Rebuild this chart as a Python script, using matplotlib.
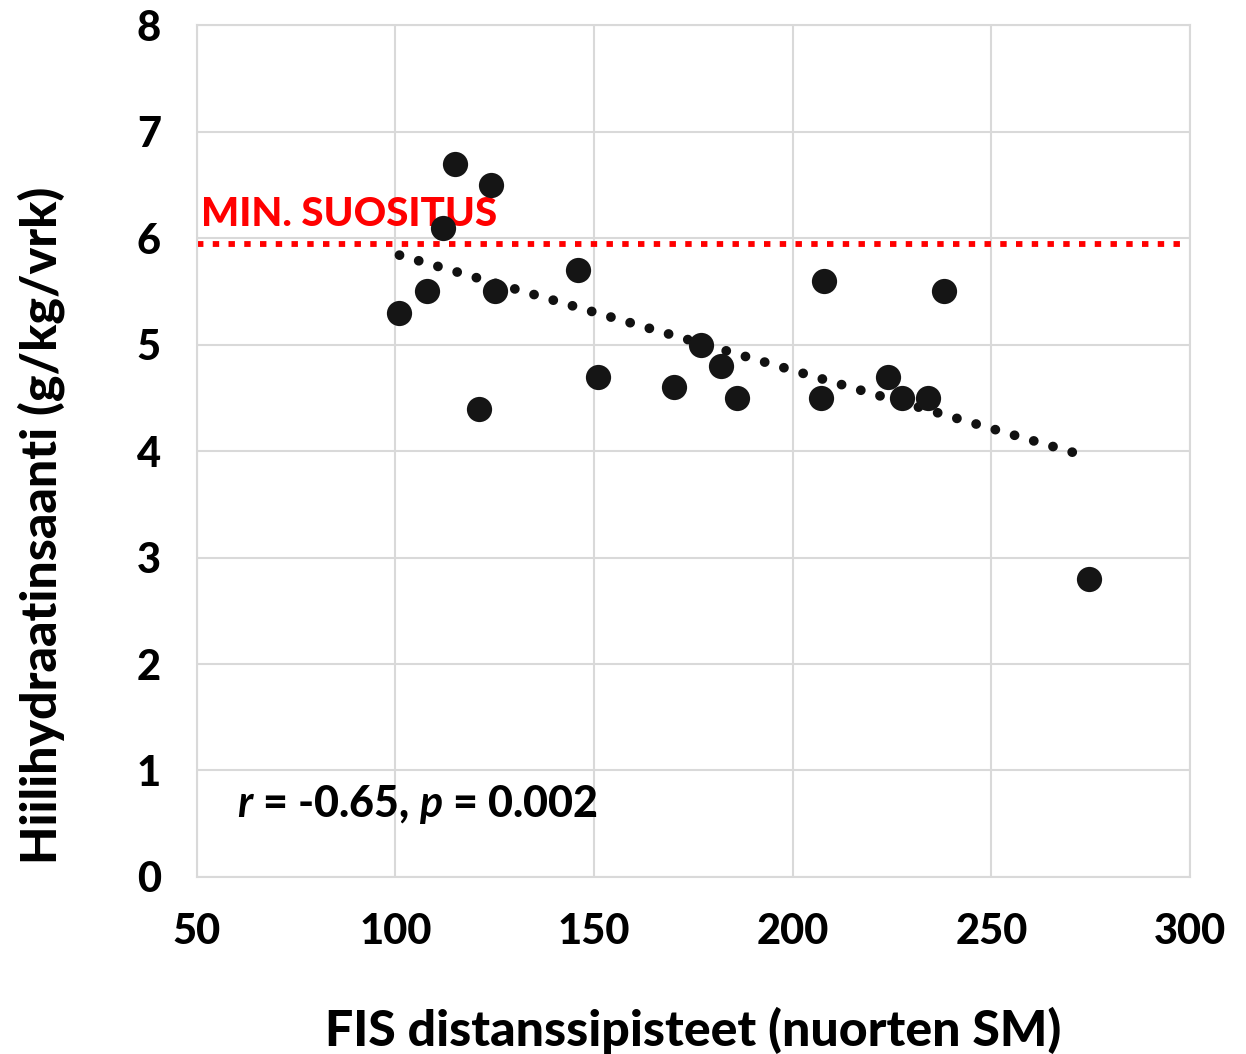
import numpy as np
import matplotlib
matplotlib.use("Agg")
import matplotlib.pyplot as plt

# Data
fis_points = [101, 108, 115, 112, 124, 125, 121, 146, 151, 170, 177, 182, 186, 208, 207, 224, 227.5, 234, 238, 274.5]
carb_intake = [5.3, 5.5, 6.7, 6.1, 6.5, 5.5, 4.4, 5.7, 4.7, 4.6, 5.0, 4.8, 4.5, 5.6, 4.5, 4.7, 4.5, 4.5, 5.5, 2.8]
min_recommendation = 5.95

x_ticks = [50, 100, 150, 200, 250, 300]
y_ticks = [0, 1, 2, 3, 4, 5, 6, 7, 8]

plt.rcParams['font.family'] = ['Lato', 'DejaVu Sans']
plt.rcParams['mathtext.fontset'] = 'custom'
plt.rcParams['mathtext.it'] = 'Lato:italic:bold'
plt.rcParams['mathtext.rm'] = 'Lato:bold'
W = 900

fig = plt.figure(figsize=(12.46, 10.54), dpi=100)
ax = fig.add_axes([0.158, 0.168, 0.797, 0.808])

# Grid and frame
ax.set_xlim(50, 300)
ax.set_ylim(0, 8)
ax.set_xticks(x_ticks)
ax.set_yticks(y_ticks)
ax.grid(True, color="#d9d9d9", linewidth=1.5)
ax.set_axisbelow(True)
for side in ax.spines.values():
    side.set_color("#d9d9d9")
    side.set_linewidth(1.5)
ax.tick_params(length=0, labelsize=30, pad=26)
for lab in ax.get_xticklabels() + ax.get_yticklabels():
    lab.set_fontweight(W)

# Minimum recommendation line
ax.axhline(min_recommendation, xmin=0, xmax=0.99, color="red", linewidth=4.2,
           linestyle=(0, (1.1, 1.6)), zorder=2)
ax.text(51, min_recommendation + 0.1, "MIN. SUOSITUS", color="red", fontsize=29,
        fontweight=W, va="bottom", ha="left", zorder=2)

# Linear trendline
x = np.array(fis_points)
y = np.array(carb_intake)
slope, intercept = np.polyfit(x, y, 1)
x_fit = np.linspace(x.min(), 271.5, 100)
ax.plot(x_fit, slope * x_fit + intercept, color="#111111", linewidth=7,
        linestyle=(0, (0.01, 2.05)), dash_capstyle="round", zorder=3)

# Scatter points
ax.scatter(x, y, s=330, color="#151515", zorder=4, linewidths=0)

ax.text(60, 0.68, r"$r$ = -0.65, $p$ = 0.002", fontsize=31,
        fontweight=W, va="center", ha="left")

ax.set_xlabel("FIS distanssipisteet (nuorten SM)", fontsize=36, fontweight=W)
ax.set_ylabel("Hiilihydraatinsaanti (g/kg/vrk)", fontsize=36, fontweight=W)
ax.xaxis.set_label_coords(0.5, -0.152)
ax.yaxis.set_label_coords(-0.133, 0.413)

fig.savefig("out.png", dpi=100)
